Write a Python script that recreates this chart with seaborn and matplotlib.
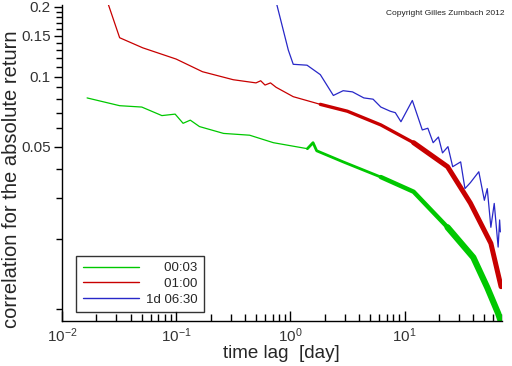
'''
Autocorrelation of the absolute return against the time lag,
for three sampling intervals, on log-log axes.
'''

import numpy as np
import pandas as pd
import seaborn as sns
import matplotlib
matplotlib.use('Agg')
import matplotlib.pyplot as plt
from matplotlib.ticker import FixedLocator, NullFormatter, LogLocator


# 00:03 sampling (green)
green_lag = [0.0166, 0.032, 0.05, 0.075, 0.098, 0.115, 0.133, 0.16, 0.26,
             0.44, 0.71, 1.41, 1.58, 1.7, 2.9, 6.2, 12.0, 23.8, 40.0,
             53.0, 66.0, 70.0]
green_corr = [0.081, 0.075, 0.074, 0.068, 0.069, 0.063, 0.065, 0.061, 0.057,
              0.056, 0.052, 0.049, 0.052, 0.048, 0.043, 0.037, 0.032, 0.0225,
              0.0167, 0.0124, 0.0096, 0.0088]

# 01:00 sampling (red)
red_lag = [0.025, 0.032, 0.051, 0.10, 0.17, 0.316, 0.5, 0.55, 0.6, 0.67,
           0.75, 1.06, 1.83, 3.16, 6.2, 12.0, 23.8, 37.7, 57.0, 70.0]
red_corr = [0.21, 0.147, 0.133, 0.119, 0.105, 0.097, 0.094, 0.096, 0.092,
            0.094, 0.090, 0.082, 0.076, 0.071, 0.062, 0.052, 0.041, 0.0286,
            0.0192, 0.0125]

# 1d 06:30 sampling (blue)
blue_lag = [0.75, 0.96, 1.06, 1.4, 1.83, 2.38, 2.9, 3.5, 4.4, 5.3, 6.2, 7.5,
            8.3, 9.3, 11.7, 14.3, 16.0, 17.8, 19.8, 21.5, 24.0, 26.4, 31.0,
            33.8, 37.7, 44.7, 50.0, 53.0, 57.0, 61.0, 66.0, 68.0, 69.0]
blue_corr = [0.21, 0.13, 0.113, 0.112, 0.102, 0.083, 0.087, 0.086, 0.081,
             0.080, 0.074, 0.071, 0.070, 0.064, 0.079, 0.059, 0.060, 0.052,
             0.055, 0.047, 0.050, 0.041, 0.043, 0.033, 0.035, 0.039, 0.0294,
             0.033, 0.0225, 0.0285, 0.0185, 0.0242, 0.0215]

series_labels = ['00:03', '01:00', '1d 06:30']
x_tick_values = [0.01, 0.1, 1, 10]
x_tick_labels = ['$10^{-2}$', '$10^{-1}$', '$10^{0}$', '$10^{1}$']
y_tick_values = [0.05, 0.1, 0.15, 0.2]
y_tick_labels = ['0.05', '0.1', '0.15', '0.2']

GREEN = '#00c800'
RED = '#c80000'
BLUE = '#2828c8'


def draw_segments(ax, lag, corr, color, cuts, widths, label):
    # noisy tails are drawn as a thicker band
    df = pd.DataFrame({'lag': lag, 'corr': corr})
    bounds = [0] + cuts + [len(lag) - 1]
    for i, lw in enumerate(widths):
        part = df.iloc[bounds[i]:bounds[i + 1] + 1]
        sns.lineplot(data=part, x='lag', y='corr', ax=ax, color=color,
                     linewidth=lw, sort=False, estimator=None,
                     solid_joinstyle='round', solid_capstyle='round',
                     label=label if i == 0 else None)


def main():
    sns.set_style('white')
    plt.rcParams['font.family'] = ['Liberation Sans', 'DejaVu Sans']
    plt.rcParams['mathtext.fontset'] = 'custom'
    plt.rcParams['mathtext.rm'] = 'Liberation Sans'
    plt.rcParams['mathtext.it'] = 'Liberation Sans'

    fig = plt.figure(figsize=(5.12, 3.66), dpi=100)
    ax = fig.add_axes([0.121, 0.123, 0.859, 0.863])

    draw_segments(ax, green_lag, green_corr, GREEN, [11, 15, 17],
                  [0.9, 2.0, 3.2, 4.5], series_labels[0])
    draw_segments(ax, red_lag, red_corr, RED, [12, 15],
                  [0.9, 2.4, 3.6], series_labels[1])
    draw_segments(ax, blue_lag, blue_corr, BLUE, [], [0.9], series_labels[2])

    ax.set_xscale('log')
    ax.set_yscale('log')
    ax.set_xlim(0.01, 71)
    ax.set_ylim(0.0089, 0.203)

    ax.xaxis.set_major_locator(FixedLocator(x_tick_values))
    ax.set_xticklabels(x_tick_labels, fontsize=11)
    ax.xaxis.set_minor_locator(LogLocator(base=10, subs=np.arange(2, 10)))
    ax.xaxis.set_minor_formatter(NullFormatter())

    ax.yaxis.set_major_locator(FixedLocator(y_tick_values))
    ax.set_yticklabels(y_tick_labels, fontsize=11)
    minor_y = [v / 100 for v in range(1, 21) if v not in (5, 10, 15, 20)]
    ax.yaxis.set_minor_locator(FixedLocator(minor_y))
    ax.yaxis.set_minor_formatter(NullFormatter())

    ax.tick_params(which='both', bottom=True, left=True, top=False,
                   right=False, color='black', width=1)
    ax.tick_params(axis='x', which='major', direction='in', length=7, pad=4)
    ax.tick_params(axis='x', which='minor', direction='in', length=5)
    ax.tick_params(axis='y', which='major', direction='out', length=6, pad=2)
    ax.tick_params(axis='y', which='minor', direction='out', length=4)
    ax.tick_params(labelcolor='#333333')

    for side in ['top', 'right']:
        ax.spines[side].set_visible(False)
    for side in ['left', 'bottom']:
        ax.spines[side].set_color('black')
        ax.spines[side].set_linewidth(1)

    ax.set_xlabel('time lag  [day]', fontsize=13.5, labelpad=0)
    ax.set_ylabel('correlation for the absolute return', fontsize=14.5)
    ax.yaxis.set_label_coords(-0.092, 0.45)

    handles, labels = ax.get_legend_handles_labels()
    padded = ['     ' + labels[0], '     ' + labels[1], labels[2]]
    leg = ax.legend(handles, padded, loc='lower left',
                    bbox_to_anchor=(0.032, 0.028), borderaxespad=0,
                    fontsize=9.5, handlelength=4.3, handletextpad=0.5,
                    labelspacing=0.25, frameon=True, fancybox=False,
                    borderpad=0.5)
    leg.get_frame().set_edgecolor('black')
    leg.get_frame().set_linewidth(1)
    for line in leg.get_lines():
        line.set_linewidth(1)

    fig.text(0.985, 0.962, 'Copyright Gilles Zumbach 2012', fontsize=6,
             ha='right', va='center', color='#222222')

    fig.savefig('out.png', dpi=100)
    plt.close(fig)


if __name__ == '__main__':
    main()
